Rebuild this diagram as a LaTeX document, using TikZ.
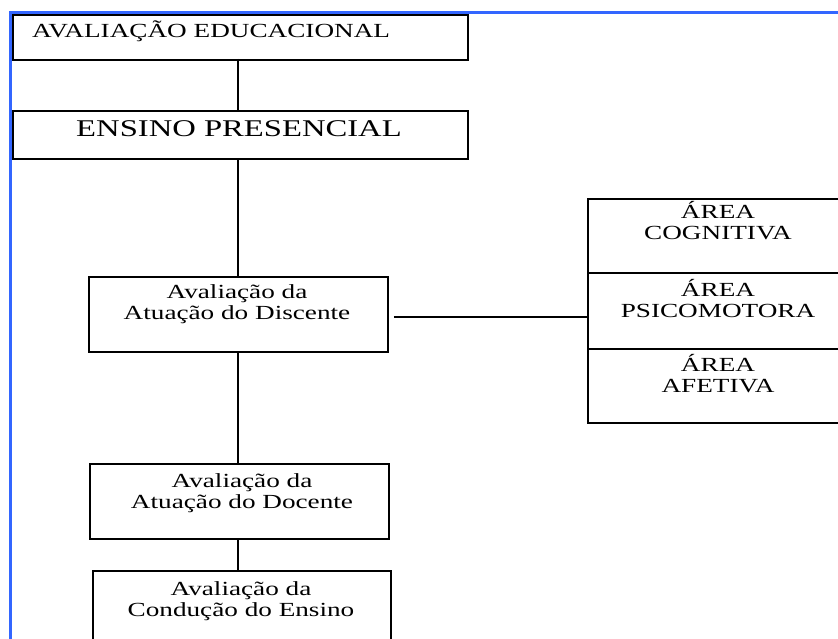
\documentclass[tikz,border=0pt]{standalone}
\usepackage{fontspec}
\setmainfont[FakeStretch=1.36]{Liberation Serif}
\definecolor{frameblue}{RGB}{51,102,255}
\begin{document}
\begin{tikzpicture}[x=1pt,y=-1pt,
  box/.style={draw=black,line width=1.8pt,rectangle,inner sep=0pt,anchor=north west},
  conn/.style={draw=black,line width=1.8pt},
  txt/.style={inner sep=0pt,align=center,font={\fontsize{20}{21}\selectfont}},
  bigtxt/.style={inner sep=0pt,align=center,font={\fontsize{24}{26}\selectfont}}]
\useasboundingbox (0,0) rectangle (838,639);
% blue frame
\draw[frameblue,line width=2.5pt] (10.5,660) -- (10.5,12.5) -- (850,12.5);
% boxes
\node[box,minimum width=455pt,minimum height=45pt] (edu) at (12,14) {};
\node[box,minimum width=455pt,minimum height=48pt] (ens) at (12,110) {};
\node[box,minimum width=299pt,minimum height=75pt] (disc) at (88,276) {};
\node[box,minimum width=258pt,minimum height=74pt] (cog) at (587,198) {};
\node[box,minimum width=258pt,minimum height=76pt] (psi) at (587,272) {};
\node[box,minimum width=258pt,minimum height=74pt] (afe) at (587,348) {};
\node[box,minimum width=299pt,minimum height=75pt] (doc) at (89,463) {};
\node[box,minimum width=298pt,minimum height=90pt] (cond) at (92,570) {};
% texts
\node[txt,anchor=base west] (tedu) at (32,38) {AVALIAÇÃO EDUCACIONAL};
\node[bigtxt,anchor=base] (tens) at (239,137) {ENSINO PRESENCIAL};
\node[txt,anchor=base] (tdisc) at (237,319) {Avaliação da\\Atuação do Discente};
\node[txt,anchor=base] (tcog) at (718,240) {ÁREA\\COGNITIVA};
\node[txt,anchor=base] (tpsi) at (718,317) {ÁREA\\PSICOMOTORA};
\node[txt,anchor=base] (tafe) at (718,392) {ÁREA\\AFETIVA};
\node[txt,anchor=base] (tdoc) at (242,508) {Avaliação da\\Atuação do Docente};
\node[txt,anchor=base] (tcond) at (241,616) {Avaliação da\\Condução do Ensino};
% connectors
\coordinate (c1) at (238,59);
\draw[conn] (c1) -- (c1 |- ens.north);
\draw[conn] (c1 |- ens.south) -- (c1 |- disc.north);
\draw[conn] (c1 |- disc.south) -- (c1 |- doc.north);
\draw[conn] (c1 |- doc.south) -- (c1 |- cond.north);
\draw[conn] ([xshift=5pt,yshift=-2.5pt]disc.east) -- ([yshift=-2.5pt]disc.east -| psi.west);
\end{tikzpicture}
\end{document}
